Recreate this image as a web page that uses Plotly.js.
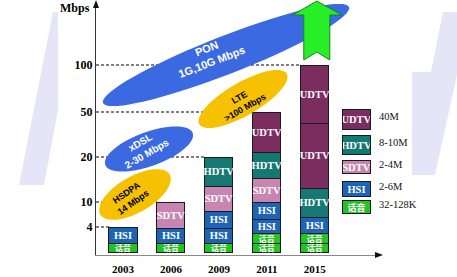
<!DOCTYPE html>
<html>
<head>
<meta charset="utf-8">
<script src="https://cdn.plot.ly/plotly-3.0.1.min.js"></script>
<style>html,body{margin:0;padding:0;background:#fff;}#chart{width:457px;height:277px;}</style>
</head>
<body>
<div id="chart"></div>
<script>
// ---------- data (segment heights, in axis units) ----------
const years = ['2003', '2006', '2009', '2011', '2015'];
const tickLabels = ['4', '10', '20', '50', '100'];          // level reached by each year's stack
const voice1 = [9, 9, 9, 9, 9];
const voice2 = [null, null, null, 10, 10];
const hsi1   = [16, 15, 15, 14, 16];
const hsi2   = [null, null, 17, 17, null];
const sdtv   = [null, 26, 25, 24, null];
const hdtv   = [null, null, 29, 26, 29];
const udtv1  = [null, null, null, 40, 65];
const udtv2  = [null, null, null, null, 58];

const legendNames = ['UDTV', 'HDTV', 'SDTV', 'HSI', '话音'];
const legendRates = ['40M', '8-10M', '2-4M', '2-6M', '32-128K'];

const bubbleTitles = ['PON', 'LTE', 'xDSL', 'HSDPA'];
const bubbleRates  = ['1G,10G Mbps', '>100 Mbps', '2-30 Mbps', '14 Mbps'];

// ---------- styles ----------
const colors = {voice: '#22c322', hsi: '#1c64b6', sdtv: '#c985b2', hdtv: '#167873', udtv: '#7b2d5f'};
const serif = 'Liberation Serif';
const sans = 'Liberation Sans';
const cjk = 'Noto Sans CJK SC';

const W = 457, H = 277;
const mL = 96, mR = 76, mT = 3, mB = 22;
const pw = W - mL - mR, ph = H - mT - mB;
const xr = [-0.563, -0.563 + pw / 47.95];
const yr = [-3, ph - 3];
const barW = 0.584;

function P(px, py) { return [(px - mL) / pw, (H - mB - py) / ph]; }
function pathFrom(pts) {
  return pts.map((p, i) => { const q = P(p[0], p[1]); return (i ? 'L' : 'M') + q[0].toFixed(5) + ',' + q[1].toFixed(5); }).join(' ') + ' Z';
}
function ellipse(cx, cy, a, b, deg) {
  const th = deg * Math.PI / 180, pts = [];
  for (let k = 0; k < 72; k++) {
    const t = k / 72 * 2 * Math.PI;
    const ex = a * Math.cos(t), ey = b * Math.sin(t);
    pts.push([cx + ex * Math.cos(th) + ey * Math.sin(th), cy - ex * Math.sin(th) + ey * Math.cos(th)]);
  }
  return pathFrom(pts);
}

const segs = [
  {y: voice1, label: '话音', c: colors.voice, f: cjk, s: 8},
  {y: voice2, label: '话音', c: colors.voice, f: cjk, s: 8},
  {y: hsi1, label: 'HSI', c: colors.hsi, f: serif, s: 10.5},
  {y: hsi2, label: 'HSI', c: colors.hsi, f: serif, s: 10.5},
  {y: sdtv, label: 'SDTV', c: colors.sdtv, f: serif, s: 10.5},
  {y: hdtv, label: 'HDTV', c: colors.hdtv, f: serif, s: 10.5},
  {y: udtv1, label: 'UDTV', c: colors.udtv, f: serif, s: 10.5},
  {y: udtv2, label: 'UDTV', c: colors.udtv, f: serif, s: 10.5}
];

const traces = segs.map(s => ({
  type: 'bar', x: years, y: s.y, width: barW,
  text: s.y.map(v => v == null ? '' : s.label),
  textposition: 'inside', insidetextanchor: 'middle', textangle: 0, constraintext: 'none',
  textfont: {family: s.f, size: s.s, color: '#ffffff', weight: 'bold'},
  marker: {color: s.c, line: {color: '#1a1a1a', width: 1}},
  hoverinfo: 'none', showlegend: false, cliponaxis: false
}));

// stack totals -> y tick positions
const totals = years.map((_, i) => segs.reduce((acc, s) => acc + (s.y[i] || 0), 0));

const shapes = [];
// background watermark strokes
shapes.push({type: 'path', xref: 'paper', yref: 'paper', layer: 'below', line: {width: 0}, fillcolor: '#e5e5f7',
  path: pathFrom([[53, 12], [58, 12], [58, 110], [44, 185], [19, 185]])});
shapes.push({type: 'path', xref: 'paper', yref: 'paper', layer: 'below', line: {width: 0}, fillcolor: '#e5e5f7',
  path: pathFrom([[443, 12], [462, 12], [462, 52], [435, 175], [412, 175], [412, 72], [431, 72]])});
// dashed level lines from axis to each stack
years.forEach((yv, i) => {
  shapes.push({type: 'line', xref: 'x', yref: 'y', layer: 'below', x0: xr[0], x1: i - barW / 2, y0: totals[i], y1: totals[i],
    line: {color: '#000', width: 1, dash: '3px,2px'}});
});
// technology bubbles
const bubbleGeo = [
  {cx: 226, cy: 55, a: 132, b: 19, ang: 21.3, fill: '#3a69e2'},
  {cx: 243, cy: 99, a: 50.5, b: 16.5, ang: 30, fill: '#f6c100'},
  {cx: 149, cy: 149, a: 46.5, b: 17, ang: 20, fill: '#3a69e2'},
  {cx: 135, cy: 194.5, a: 40, b: 18, ang: 30, fill: '#f6c100'}
];
bubbleGeo.forEach(g => shapes.push({type: 'path', xref: 'paper', yref: 'paper', layer: 'above', line: {width: 0},
  fillcolor: g.fill, path: ellipse(g.cx, g.cy, g.a, g.b, g.ang)}));
// green growth arrow above the last stack
const cx4 = mL + (years.length - 1 - xr[0]) * pw / (xr[1] - xr[0]) + 2;
shapes.push({type: 'path', xref: 'paper', yref: 'paper', layer: 'above', fillcolor: '#27ee27', line: {color: '#128a12', width: 1},
  path: pathFrom([[cx4, 1], [cx4 + 25, 15], [cx4 + 13, 15], [cx4 + 13, 60], [cx4, 52], [cx4 - 13, 60], [cx4 - 13, 15], [cx4 - 24, 15]])});
// axis arrowheads
shapes.push({type: 'path', xref: 'paper', yref: 'paper', layer: 'above', fillcolor: '#111', line: {width: 0},
  path: pathFrom([[96, 0], [99, 8], [93, 8]])});
shapes.push({type: 'path', xref: 'paper', yref: 'paper', layer: 'above', fillcolor: '#111', line: {width: 0},
  path: pathFrom([[383, 255], [375, 252], [375, 258]])});

const annotations = [];
function ann(px, py, text, opts) {
  const q = P(px, py);
  annotations.push(Object.assign({xref: 'paper', yref: 'paper', x: q[0], y: q[1], text: text, showarrow: false}, opts));
}
ann(92, 8, 'Mbps', {xanchor: 'right', yanchor: 'middle', font: {family: serif, size: 12, color: '#000', weight: 'bold'}});

const bubbleText = [
  {x: 209, y: 55, ang: -21, size: 11, color: '#fff'},
  {x: 241.5, y: 102.5, ang: -30, size: 9, color: '#000'},
  {x: 143.5, y: 148, ang: -30, size: 10, color: '#fff'},
  {x: 129.5, y: 198, ang: -35, size: 9, color: '#000'}
];
bubbleTitles.forEach((t, i) => {
  const g = bubbleText[i];
  ann(g.x, g.y, t + '<br>' + bubbleRates[i], {textangle: g.ang, xanchor: 'center', yanchor: 'middle',
    font: {family: sans, size: g.size, color: g.color, weight: 'bold'}});
});

// custom legend
const legendColors = [colors.udtv, colors.hdtv, colors.sdtv, colors.hsi, colors.voice];
const legendY = [119, 144.5, 167, 188.5, 206.5];
const legendH = [19, 18, 12, 14, 12];
legendNames.forEach((n, i) => {
  ann(356, legendY[i], n, {xanchor: 'center', yanchor: 'middle', width: 27, height: legendH[i], bgcolor: legendColors[i],
    bordercolor: '#1a1a1a', borderwidth: 1, borderpad: 0,
    font: {family: n === '话音' ? cjk : serif, size: n === '话音' ? 9 : 10.5, color: '#fff', weight: 'bold'}});
  ann(377, legendY[i] - 2, legendRates[i], {xanchor: 'left', yanchor: 'middle', font: {family: serif, size: 10.5, color: '#111'}});
});

const layout = {
  width: W, height: H, margin: {l: mL, r: mR, t: mT, b: mB, pad: 0},
  paper_bgcolor: '#fff', plot_bgcolor: 'rgba(0,0,0,0)',
  barmode: 'stack', showlegend: false,
  xaxis: {type: 'category', range: xr, showline: true, linecolor: '#8a8a8a', linewidth: 1, ticks: '', showgrid: false, zeroline: false,
    ticklabelstandoff: 4,
    tickfont: {family: serif, size: 11, color: '#000', weight: 'bold'}, fixedrange: true},
  yaxis: {range: yr, showline: true, linecolor: '#333', linewidth: 1, ticks: '', showgrid: false, zeroline: false,
    tickmode: 'array', tickvals: totals, ticktext: tickLabels,
    tickfont: {family: serif, size: 12, color: '#000', weight: 'bold'}, fixedrange: true},
  shapes: shapes, annotations: annotations
};

Plotly.newPlot('chart', traces, layout, {staticPlot: true, displayModeBar: false});
</script>
</body>
</html>
